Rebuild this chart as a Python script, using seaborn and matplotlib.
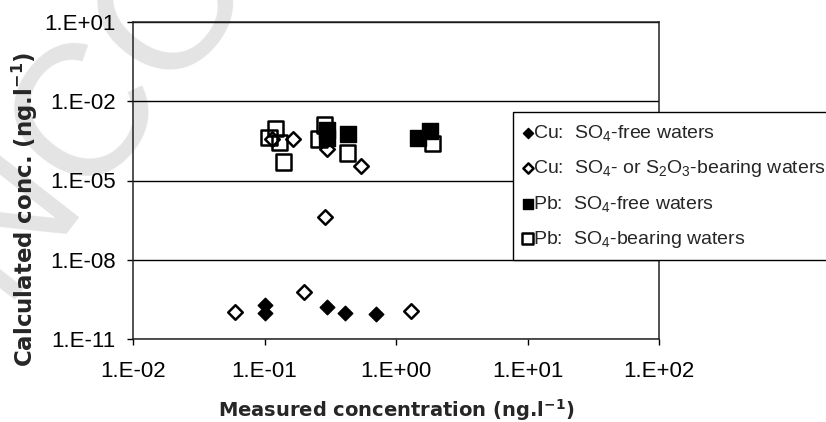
import matplotlib
matplotlib.use('Agg')
import matplotlib.pyplot as plt
import seaborn as sns
import pandas as pd
from matplotlib.ticker import FixedLocator, NullLocator, FixedFormatter

# Cu, SO4-free waters (filled diamonds)
cu_free_x = [0.10, 0.10, 0.30, 0.41, 0.70]
cu_free_y = [1.9e-10, 1.0e-10, 1.6e-10, 9.5e-11, 8.7e-11]
# Cu, SO4- or S2O3-bearing waters (open diamonds)
cu_bear_x = [0.06, 0.20, 1.3, 0.29, 0.165, 0.30, 0.54, 0.115]
cu_bear_y = [1.05e-10, 5.9e-10, 1.1e-10, 4.1e-7, 3.7e-4, 1.5e-4, 3.5e-5, 3.7e-4]
# Pb, SO4-free waters (filled squares)
pb_free_x = [0.30, 0.30, 0.43, 1.47, 1.8]
pb_free_y = [8.0e-4, 4.2e-4, 5.7e-4, 4.0e-4, 7.4e-4]
# Pb, SO4-bearing waters (open squares)
pb_bear_x = [0.122, 0.108, 0.13, 0.14, 0.26, 0.285, 0.43, 1.9]
pb_bear_y = [9.6e-4, 4.3e-4, 2.8e-4, 5.0e-5, 3.7e-4, 1.25e-3, 1.1e-4, 2.6e-4]

xticks = [1e-2, 1e-1, 1e0, 1e1, 1e2]
xticklabels = ['1.E-02', '1.E-01', '1.E+00', '1.E+01', '1.E+02']
yticks = [1e-11, 1e-8, 1e-5, 1e-2, 1e1]
yticklabels = ['1.E-11', '1.E-08', '1.E-05', '1.E-02', '1.E+01']

sns.set_style('white')
plt.rcParams['font.family'] = ['Liberation Sans', 'DejaVu Sans']
plt.rcParams['mathtext.default'] = 'regular'
plt.rcParams['mathtext.fontset'] = 'custom'
plt.rcParams['mathtext.rm'] = 'Liberation Sans'
plt.rcParams['mathtext.bf'] = 'DejaVu Sans:bold'

fig = plt.figure(figsize=(8.26, 4.22), dpi=100)
ax = fig.add_axes([133 / 826, 1 - 339 / 422, 526 / 826, 317 / 422])
ax.patch.set_alpha(0)

# faint watermark behind the plot
fig.text(0 / 826, 1 - 300 / 422, 'NCORR', fontsize=135, color='#e4e4e4',
         rotation=52, rotation_mode='anchor', ha='left', va='baseline', zorder=-5)

df_pb_bear = pd.DataFrame({'x': pb_bear_x, 'y': pb_bear_y})
df_pb_free = pd.DataFrame({'x': pb_free_x, 'y': pb_free_y})
df_cu_bear = pd.DataFrame({'x': cu_bear_x, 'y': cu_bear_y})
df_cu_free = pd.DataFrame({'x': cu_free_x, 'y': cu_free_y})

sns.scatterplot(data=df_cu_free, x='x', y='y', ax=ax, marker='D', s=55,
                color='black', edgecolor='black', linewidth=1,
                label='Cu:  SO$_4$-free waters', zorder=3)
sns.scatterplot(data=df_cu_bear, x='x', y='y', ax=ax, marker='D', s=55,
                facecolor='white', edgecolor='black', linewidth=1.8,
                label='Cu:  SO$_4$- or S$_2$O$_3$-bearing waters', zorder=3)
sns.scatterplot(data=df_pb_free, x='x', y='y', ax=ax, marker='s', s=120,
                color='black', edgecolor='black', linewidth=1,
                label='Pb:  SO$_4$-free waters', zorder=3)
sns.scatterplot(data=df_pb_bear, x='x', y='y', ax=ax, marker='s', s=120,
                facecolor='none', edgecolor='black', linewidth=1.8,
                label='Pb:  SO$_4$-bearing waters', zorder=3)

ax.set_xscale('log')
ax.set_yscale('log')
ax.set_xlim(1e-2, 1e2)
ax.set_ylim(1e-11, 1e1)
ax.xaxis.set_major_locator(FixedLocator(xticks))
ax.xaxis.set_major_formatter(FixedFormatter(xticklabels))
ax.xaxis.set_minor_locator(NullLocator())
ax.yaxis.set_major_locator(FixedLocator(yticks))
ax.yaxis.set_major_formatter(FixedFormatter(yticklabels))
ax.yaxis.set_minor_locator(NullLocator())

ax.grid(axis='y', color='black', linewidth=1)
ax.grid(axis='x', visible=False)
for sp in ax.spines.values():
    sp.set_color('#222222')
    sp.set_linewidth(1.1)

ax.tick_params(axis='both', direction='out', length=4.5, width=1, color='black',
               labelsize=16, labelcolor='black', bottom=True, left=True)
ax.tick_params(axis='x', pad=11)
ax.tick_params(axis='y', pad=8)

ax.set_xlabel('Measured concentration (ng.l$\\mathbf{^{-1}}$)', fontsize=14,
              fontweight='bold', family='DejaVu Sans', labelpad=11)
ax.set_ylabel('Calculated conc. (ng.l$\\mathbf{^{-1}}$)', fontsize=16.5,
              fontweight='bold', family='DejaVu Sans')
ax.yaxis.set_label_coords(-0.177, 0.41)

leg = ax.legend(loc='upper left', bbox_to_anchor=(513 / 826, 1 - 112 / 422),
                bbox_transform=fig.transFigure, borderaxespad=0, frameon=True,
                fancybox=False, edgecolor='black', fontsize=14,
                handletextpad=0.1, handlelength=0.4,
                labelspacing=0.77, borderpad=0.55, markerscale=0.7)
leg.get_frame().set_linewidth(1)
leg.get_frame().set_alpha(1)

fig.savefig('out.png', dpi=100)
